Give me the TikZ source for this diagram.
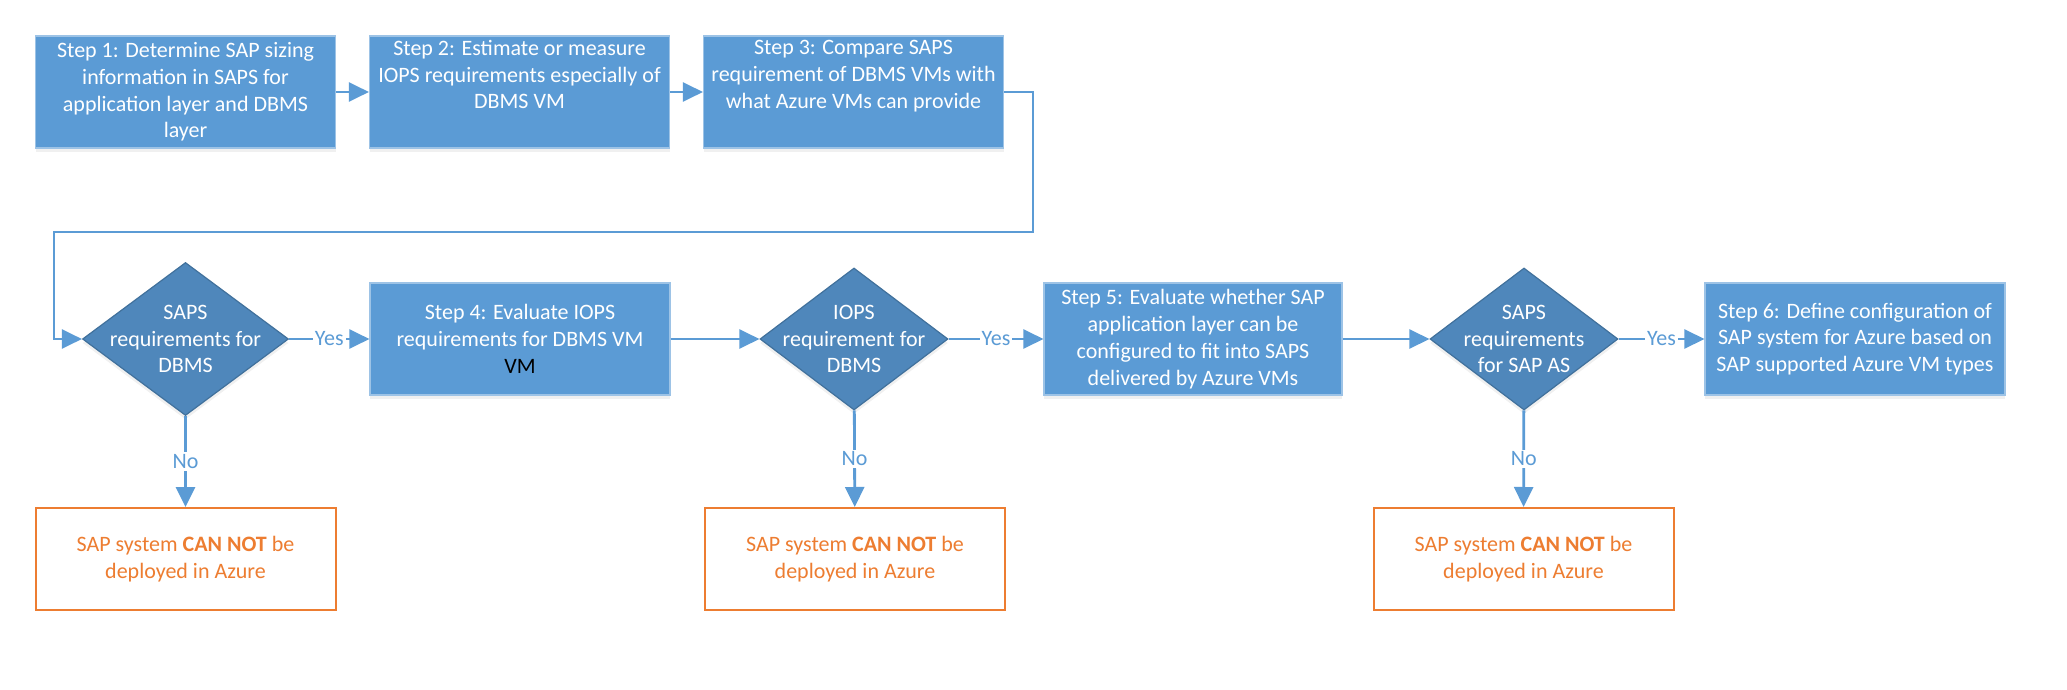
\documentclass[tikz,border=0pt]{standalone}
\usepackage{fontspec}
\setmainfont{Carlito}
\usepackage{tikz}
\usetikzlibrary{shapes.geometric,arrows.meta,shadows}
\definecolor{boxblue}{HTML}{5B9BD5}
\definecolor{boxrim}{HTML}{9DC3E6}
\definecolor{diafill}{HTML}{4F87BB}
\definecolor{diarim}{HTML}{41719C}
\definecolor{linkblue}{HTML}{5B9BD5}
\definecolor{warn}{HTML}{ED7D31}
\tikzset{
  txt/.style={font=\fontsize{11}{13.4}\selectfont},
  soft/.style={drop shadow={opacity=0.12, shadow xshift=0pt, shadow yshift=-2pt}},
  stepbox/.style={txt, rectangle, draw=boxrim, line width=0.6pt, fill=boxblue, text=white, minimum width=150pt, minimum height=56pt, inner sep=0pt, align=center, soft},
  check/.style={diamond, draw=diarim, line width=0.6pt, fill=diafill, minimum width=94pt, minimum height=71pt, inner sep=0pt, soft},
  checklab/.style={txt, text=white, align=center, inner sep=0pt},
  stop/.style={txt, rectangle, draw=warn, line width=1pt, fill=white, text=warn, minimum width=150pt, minimum height=51pt, align=center},
  link/.style={draw=linkblue, line width=1.4pt, -{Triangle[length=10pt,width=9.5pt]}},
  ans/.style={txt, fill=white, text=linkblue, inner sep=1pt},
}
\begin{document}
\begin{tikzpicture}[x=0.5pt,y=-0.5pt]
  \useasboundingbox (0,0) rectangle (2067,690);
  \node[stepbox] (s1) at (185.5,92) {Step 1: Determine SAP sizing\\information in SAPS for\\application layer and DBMS\\layer};
  \node[stepbox] (s2) at (519.5,92) {Step 2: Estimate or measure\\IOPS requirements especially of\\DBMS VM\\\strut};
  \node[stepbox] (s3) at (853.5,92) {Step 3: Compare SAPS\\requirement of DBMS VMs with\\what Azure VMs can provide\\\strut};
  \node[check, minimum width=103pt, minimum height=76.5pt, label={[checklab]center:{SAPS\\requirements for\\DBMS}}] (d1) at (185.5,339) {};
  \node[stepbox] (s4) at (520,339) {Step 4: Evaluate IOPS\\requirements for DBMS VM\\{\color{black}VM}};
  \node[check, label={[checklab]center:{IOPS\\requirement for\\DBMS}}] (d2) at (854,339) {};
  \node[stepbox, minimum width=149pt] (s5) at (1193,339) {Step 5: Evaluate whether SAP\\application layer can be\\configured to fit into SAPS\\delivered by Azure VMs};
  \node[check, label={[checklab]center:{SAPS\\requirements\\for SAP AS}}] (d3) at (1524,339) {};
  \node[stepbox] (s6) at (1855,339) {Step 6: Define configuration of\\SAP system for Azure based on\\SAP supported Azure VM types};
  \node[stop] (n1) at (185.5,559) {SAP system \textbf{CAN NOT} be\\deployed in Azure};
  \node[stop] (n2) at (855,559) {SAP system \textbf{CAN NOT} be\\deployed in Azure};
  \node[stop] (n3) at (1523.5,559) {SAP system \textbf{CAN NOT} be\\deployed in Azure};
  \coordinate (rt) at (1033,232);
  \coordinate (lt) at (54,232);
  \draw[link] (s1) -- (s2);
  \draw[link] (s2) -- (s3);
  \draw[link] (s3.east) -| (rt) -- (lt) |- (d1.west);
  \draw[link] (d1) -- node[ans]{Yes} (s4);
  \draw[link] (s4) -- (d2);
  \draw[link] (d2) -- node[ans]{Yes} (s5);
  \draw[link] (s5) -- (d3);
  \draw[link] (d3) -- node[ans]{Yes} (s6);
  \foreach \q/\r in {d1/n1,d2/n2,d3/n3}
    \draw[link] (\q) -- node[ans]{No} (\r);
\end{tikzpicture}
\end{document}
